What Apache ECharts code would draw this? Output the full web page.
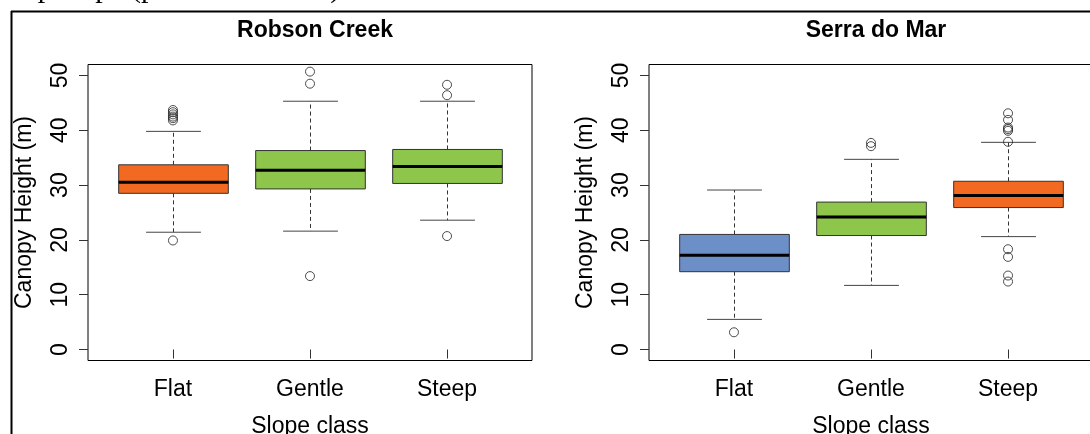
<!DOCTYPE html>
<html><head><meta charset="utf-8">
<script src="https://cdn.jsdelivr.net/npm/echarts@6/dist/echarts.min.js"></script>
<style>html,body{margin:0;padding:0;background:#fff;overflow:hidden}#c{width:1090px;height:434px}</style>
</head><body><div id="c"></div>
<script>
const categories = ['Flat', 'Gentle', 'Steep'];
const yTicks = [0, 10, 20, 30, 40, 50];
const xTicks = [1, 2, 3];
const panelTitles = ['Robson Creek', 'Serra do Mar'];
// each box: [lower whisker, Q1, median, Q3, upper whisker]
const robsonBoxes = [
  [21.4, 28.5, 30.5, 33.7, 39.8],
  [21.6, 29.3, 32.7, 36.3, 45.3],
  [23.6, 30.3, 33.4, 36.5, 45.3]
];
const robsonOutliers = [
  [1, 19.9], [1, 41.8], [1, 42.2], [1, 42.5], [1, 42.9], [1, 43.3], [1, 43.7],
  [2, 50.7], [2, 48.5], [2, 13.4],
  [3, 48.3], [3, 46.4], [3, 20.7]
];
const serraBoxes = [
  [5.5, 14.2, 17.2, 21.0, 29.1],
  [11.7, 20.8, 24.2, 26.9, 34.7],
  [20.6, 25.9, 28.1, 30.7, 37.8]
];
const serraOutliers = [
  [1, 3.15],
  [2, 37.7], [2, 37.1],
  [3, 43.1], [3, 41.9], [3, 40.5], [3, 40.2], [3, 39.9], [3, 37.9],
  [3, 18.3], [3, 16.9], [3, 13.5], [3, 12.4]
];
const robsonColors = ['#F26A21', '#8DC64B', '#8DC64B'];
const serraColors = ['#6D8FC8', '#8DC64B', '#F26A21'];

const FONT = 'Liberation Sans, Arial, sans-serif';
const chart = echarts.init(document.getElementById('c'), null, {renderer: 'canvas'});

function boxRenderer(colors) {
  return function (params, api) {
    const x = api.value(0);
    const lo = api.coord([x, api.value(1)]);
    const q1 = api.coord([x, api.value(2)]);
    const md = api.coord([x, api.value(3)]);
    const q3 = api.coord([x, api.value(4)]);
    const hi = api.coord([x, api.value(5)]);
    const bw = api.size([0.8, 0])[0];
    const cw = api.size([0.4, 0])[0];
    const cx = Math.round(lo[0]) + 0.5;
    const whisk = {stroke: '#333', lineWidth: 1, lineDash: [4, 3]};
    const cap = {stroke: '#444', lineWidth: 1};
    return {
      type: 'group',
      children: [
        {type: 'line', shape: {x1: cx, y1: q1[1], x2: cx, y2: lo[1]}, style: whisk},
        {type: 'line', shape: {x1: cx, y1: q3[1], x2: cx, y2: hi[1]}, style: whisk},
        {type: 'line', shape: {x1: cx - cw / 2, y1: lo[1], x2: cx + cw / 2, y2: lo[1]}, style: cap},
        {type: 'line', shape: {x1: cx - cw / 2, y1: hi[1], x2: cx + cw / 2, y2: hi[1]}, style: cap},
        {type: 'rect', shape: {x: cx - bw / 2, y: q3[1], width: bw, height: q1[1] - q3[1]},
          style: {fill: colors[params.dataIndex], stroke: '#333', lineWidth: 1}},
        {type: 'line', shape: {x1: cx - bw / 2, y1: md[1], x2: cx + bw / 2, y2: md[1]},
          style: {stroke: '#000', lineWidth: 3}}
      ]
    };
  };
}

const gridLefts = [88, 649];
const grids = gridLefts.map(l => ({left: l, top: 64.5, width: 444, height: 296, show: true,
  borderColor: '#000', borderWidth: 1, backgroundColor: 'transparent', containLabel: false,
  outerBoundsMode: 'none'}));

const xAxes = gridLefts.map((l, i) => ({
  gridIndex: i, type: 'value', min: 0.38, max: 3.62,
  axisLine: {show: false},
  axisTick: {show: true, length: 9, customValues: xTicks, lineStyle: {color: '#333'}},
  axisLabel: {customValues: xTicks, margin: 18, fontSize: 23, color: '#000', fontFamily: FONT,
    formatter: v => categories[Math.round(v) - 1] || ''},
  splitLine: {show: false},
  name: 'Slope class', nameLocation: 'middle', nameGap: 55,
  nameTextStyle: {fontSize: 23, color: '#000', fontFamily: FONT}
}));
const yAxes = gridLefts.map((l, i) => ({
  gridIndex: i, type: 'value', min: -2, max: 52,
  axisLine: {show: false},
  axisTick: {show: true, length: 9, customValues: yTicks, lineStyle: {color: '#333'}},
  axisLabel: {customValues: yTicks, rotate: 90, margin: 16, fontSize: 23, color: '#000', fontFamily: FONT},
  splitLine: {show: false},
  name: 'Canopy Height (m)', nameLocation: 'middle', nameGap: 52,
  nameTextStyle: {fontSize: 23, color: '#000', fontFamily: FONT}
}));

function boxData(boxes) { return boxes.map((b, i) => [xTicks[i]].concat(b)); }

const outlierStyle = {color: 'rgba(0,0,0,0)', borderColor: '#222', borderWidth: 1};

chart.setOption({
  animation: false,
  backgroundColor: '#fff',
  title: panelTitles.map((t, i) => ({
    text: t, left: gridLefts[i] + 222, top: 14, textAlign: 'center',
    textStyle: {fontSize: 23, fontWeight: 'bold', color: '#000', fontFamily: FONT}
  })),
  grid: grids,
  xAxis: xAxes,
  yAxis: yAxes,
  graphic: [
    {type: 'text', left: -9, top: -26, silent: true,
      style: {text: 'steep slope (p-value < 0.001).', fontSize: 30, fontFamily: 'Liberation Serif, Times New Roman, serif', fill: '#000'}},
    {type: 'line', silent: true, shape: {x1: 11, y1: 11.5, x2: 1090, y2: 11.5}, style: {stroke: '#000', lineWidth: 2}},
    {type: 'line', silent: true, shape: {x1: 11.5, y1: 11, x2: 11.5, y2: 434}, style: {stroke: '#000', lineWidth: 2}}
  ],
  series: [
    {type: 'custom', xAxisIndex: 0, yAxisIndex: 0, renderItem: boxRenderer(robsonColors),
      data: boxData(robsonBoxes), silent: true, z: 2},
    {type: 'scatter', xAxisIndex: 0, yAxisIndex: 0, data: robsonOutliers, symbol: 'circle',
      symbolSize: 9, itemStyle: outlierStyle, silent: true, z: 3},
    {type: 'custom', xAxisIndex: 1, yAxisIndex: 1, renderItem: boxRenderer(serraColors),
      data: boxData(serraBoxes), silent: true, z: 2},
    {type: 'scatter', xAxisIndex: 1, yAxisIndex: 1, data: serraOutliers, symbol: 'circle',
      symbolSize: 9, itemStyle: outlierStyle, silent: true, z: 3}
  ]
});
</script></body></html>
